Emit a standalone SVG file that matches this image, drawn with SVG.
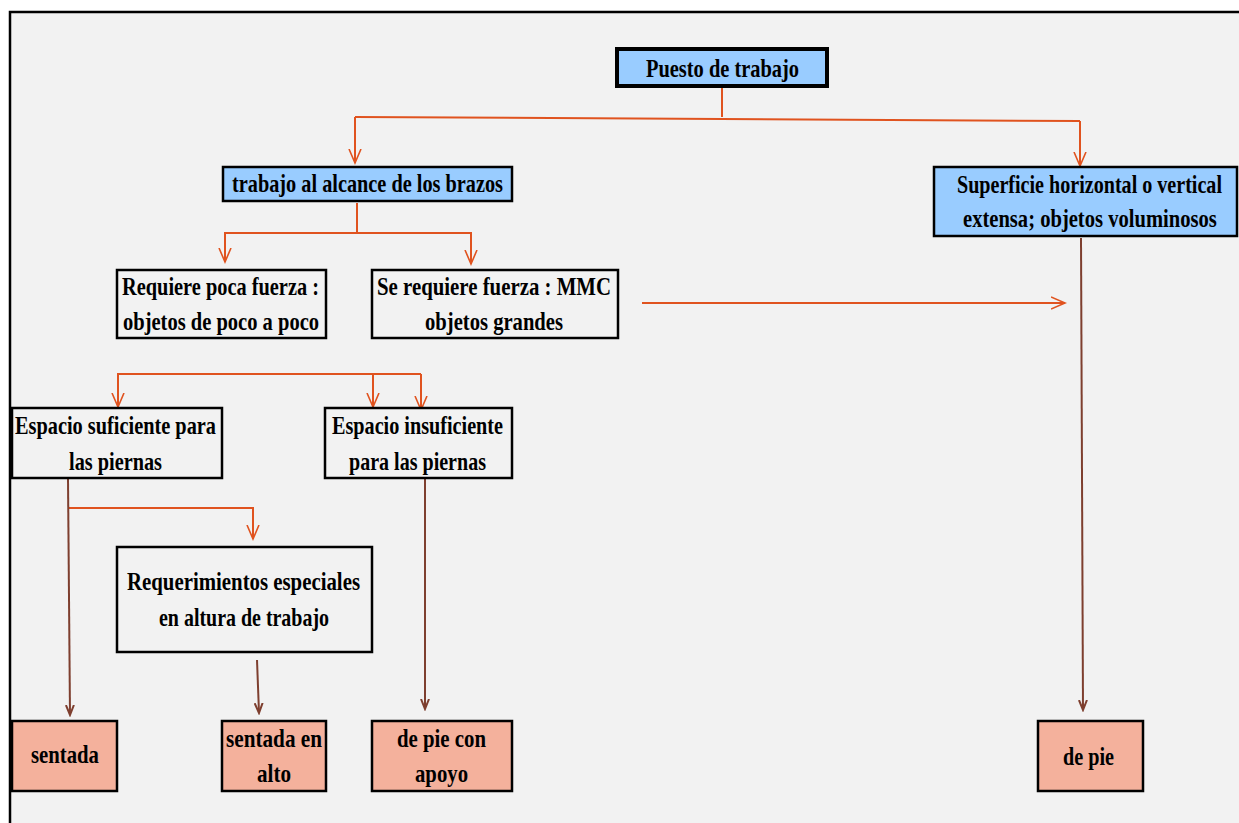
<svg xmlns="http://www.w3.org/2000/svg" width="1239" height="823" viewBox="0 0 1239 823">
<defs>
<style>
.t{font-family:"Liberation Serif","Times New Roman",serif;font-weight:bold;font-size:25px;fill:#000}
.bx{stroke:#000;stroke-width:2.5}
.plain{fill:#f2f2f2}
.blue{fill:#99ccff}
.sal{fill:#f4b19c}
.o{stroke:#e0531f;stroke-width:2;fill:none}
.b{stroke:#7e3f2f;stroke-width:2;fill:none}
</style>
<marker id="ao" markerWidth="16" markerHeight="14" refX="14" refY="7" orient="auto" markerUnits="userSpaceOnUse">
<path d="M0,1 L14,7 L0,13" fill="none" stroke="#e0531f" stroke-width="1.6"/>
</marker>
<marker id="ab" markerWidth="12" markerHeight="10" refX="10" refY="5" orient="auto" markerUnits="userSpaceOnUse">
<path d="M0,1 L10,5 L0,9" fill="none" stroke="#7e3f2f" stroke-width="2"/>
</marker>
</defs>
<rect x="0" y="0" width="1239" height="823" fill="#ffffff"/>
<rect x="10" y="12" width="1240" height="830" fill="#f2f2f2" stroke="#000" stroke-width="2.5"/>

<g id="connectors">
<path class="o" d="M722,88 V117"/>
<path class="o" d="M355,117 L1080,121"/>
<path class="o" d="M355,117 V163" marker-end="url(#ao)"/>
<path class="o" d="M1080,121 V166" marker-end="url(#ao)"/>
<path class="o" d="M357,203 V232"/>
<path class="o" d="M224,233 H472"/>
<path class="o" d="M225,233 V262" marker-end="url(#ao)"/>
<path class="o" d="M471,233 V264" marker-end="url(#ao)"/>
<path class="o" d="M642,303 H1065" marker-end="url(#ao)"/>
<path class="o" d="M117,374 H421"/>
<path class="o" d="M118,374 V407" marker-end="url(#ao)"/>
<path class="o" d="M373,374 V407" marker-end="url(#ao)"/>
<path class="o" d="M421,374 V410" marker-end="url(#ao)"/>
<path class="o" d="M69,508 H253 V539" marker-end="url(#ao)"/>
<path class="b" d="M68,479 L70,715" marker-end="url(#ab)"/>
<path class="b" d="M257,660 L259,713" marker-end="url(#ab)"/>
<path class="b" d="M425,479 V709" marker-end="url(#ab)"/>
<path class="b" d="M1081,238 L1083,710" marker-end="url(#ab)"/>
</g>

<g id="n-puesto">
<rect x="617" y="49" width="210" height="37" class="blue" stroke="#000" stroke-width="4"/>
<text class="t" x="646" y="77" textLength="153" lengthAdjust="spacingAndGlyphs" style="font-size:26px">Puesto de trabajo</text>
</g>
<g id="n-alcance">
<rect x="223" y="167" width="289" height="34" class="blue bx"/>
<text class="t" x="232" y="192" textLength="271" lengthAdjust="spacingAndGlyphs">trabajo al alcance de los brazos</text>
</g>
<g id="n-superficie">
<rect x="934" y="167" width="303" height="69" class="blue bx"/>
<text class="t" transform="translate(957,193) scale(0.803,1)" x="0" y="0" textLength="330" lengthAdjust="spacingAndGlyphs">Superficie horizontal o vertical</text>
<text class="t" transform="translate(963,227) scale(0.824,1)" x="0" y="0" textLength="308" lengthAdjust="spacingAndGlyphs">extensa; objetos voluminosos</text>
</g>
<g id="n-poca">
<rect x="117" y="270" width="209" height="68" class="plain bx"/>
<text class="t" x="122" y="295" textLength="197" lengthAdjust="spacingAndGlyphs">Requiere poca fuerza :</text>
<text class="t" x="123" y="330" textLength="196" lengthAdjust="spacingAndGlyphs">objetos de poco a poco</text>
</g>
<g id="n-fuerza">
<rect x="372" y="270" width="246" height="68" class="plain bx"/>
<text class="t" x="377" y="295" textLength="234" lengthAdjust="spacingAndGlyphs">Se requiere fuerza : MMC</text>
<text class="t" x="425" y="330" textLength="138" lengthAdjust="spacingAndGlyphs">objetos grandes</text>
</g>
<g id="n-suficiente">
<rect x="12" y="408" width="210" height="70" class="plain bx"/>
<text class="t" x="15" y="434" textLength="201" lengthAdjust="spacingAndGlyphs">Espacio suficiente para</text>
<text class="t" x="69" y="470" textLength="93" lengthAdjust="spacingAndGlyphs">las piernas</text>
</g>
<g id="n-insuficiente">
<rect x="325" y="408" width="187" height="70" class="plain bx"/>
<text class="t" x="332" y="434" textLength="171" lengthAdjust="spacingAndGlyphs">Espacio insuficiente</text>
<text class="t" x="349" y="470" textLength="137" lengthAdjust="spacingAndGlyphs">para las piernas</text>
</g>
<g id="n-requerimientos">
<rect x="117" y="547" width="255" height="105" class="plain bx"/>
<text class="t" x="127" y="590" textLength="233" lengthAdjust="spacingAndGlyphs">Requerimientos especiales</text>
<text class="t" x="159" y="626" textLength="170" lengthAdjust="spacingAndGlyphs">en altura de trabajo</text>
</g>
<g id="n-sentada">
<rect x="12" y="721" width="105" height="70" class="sal bx"/>
<text class="t" x="31" y="763" textLength="68" lengthAdjust="spacingAndGlyphs">sentada</text>
</g>
<g id="n-sentada-alto">
<rect x="222" y="721" width="104" height="70" class="sal bx"/>
<text class="t" x="226" y="747" textLength="96" lengthAdjust="spacingAndGlyphs">sentada en</text>
<text class="t" x="257" y="782" textLength="34" lengthAdjust="spacingAndGlyphs">alto</text>
</g>
<g id="n-pie-apoyo">
<rect x="372" y="721" width="140" height="70" class="sal bx"/>
<text class="t" x="397" y="747" textLength="89" lengthAdjust="spacingAndGlyphs">de pie con</text>
<text class="t" x="415" y="782" textLength="53" lengthAdjust="spacingAndGlyphs">apoyo</text>
</g>
<g id="n-pie">
<rect x="1038" y="721" width="105" height="70" class="sal bx"/>
<text class="t" x="1063" y="765" textLength="51" lengthAdjust="spacingAndGlyphs">de pie</text>
</g>
</svg>
